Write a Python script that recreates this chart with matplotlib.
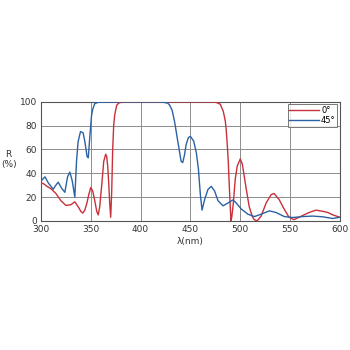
import matplotlib
matplotlib.use("Agg")
import matplotlib.pyplot as plt

# 0 deg curve
wl_0 = [300, 303, 306, 310, 315, 320, 325, 330, 334, 338, 340, 342, 344, 346, 348, 350, 352, 354,
        356, 357.5, 359, 361, 363, 365, 366, 367, 368, 369, 370, 371, 372, 373, 374, 376, 378,
        380, 390, 420, 450, 470, 476, 480, 483, 485, 486, 487, 488, 489, 490, 490.7, 491.5, 493,
        495, 497, 500, 502, 503, 506, 509, 512, 514, 517, 521, 526, 531, 534, 539, 544, 549, 554,
        559, 564, 569, 576, 583, 588, 593, 600]
r_0 = [32, 31, 29, 27, 23, 17, 13, 13.5, 16, 11, 8, 6.5, 9, 14.5, 22, 28, 25, 17,
       8, 5, 12, 30, 50, 56, 54, 46, 32, 15, 3, 24, 60, 80, 89, 97, 99,
       99.5, 100, 100, 100, 100, 99.5, 98, 92, 84, 76, 64, 50, 30, 12, 0, 3, 14,
       35, 46, 52, 48, 43, 27, 12, 4, 1, 0, 4, 15, 22, 23, 18, 10, 3, 1,
       3, 5, 7, 9, 8, 7, 5, 3]

# 45 deg curve
wl_45 = [300, 304, 307.3, 310, 312.3, 315, 317.3, 320.7, 324, 326.7, 329, 331.3, 334, 335.7,
         337.3, 339.7, 342.3, 344, 346.3, 347.5, 349, 350.7, 352, 354, 357, 360, 380, 420, 427,
         429, 431.6, 434, 437.3, 440.7, 442.3, 444, 445.7, 448, 450, 453.3, 456, 458, 460, 461.7,
         464.3, 467.7, 471, 474.3, 477.7, 482.7, 487.7, 492.7, 496, 501, 507.7, 514.3, 521, 529.3,
         536, 544.3, 552.7, 562.7, 572.7, 582.7, 592.7, 600]
r_45 = [33.5, 37, 32, 29, 26.6, 30, 32.5, 27.5, 24, 37, 41, 34, 20, 50,
        66.6, 75, 74, 67, 54, 53, 70, 88, 94, 98.5, 99.5, 99.8, 100, 100, 99,
        97.5, 93, 84, 67, 50, 49, 55, 64, 70, 71, 67, 57, 44, 22, 9,
        18, 26.5, 29, 25, 17, 12.6, 15, 17.6, 15, 10, 5.6, 3.6, 5.6, 8.4,
        7, 3.6, 2.8, 3.6, 4, 3.4, 2, 3]

x_ticks = [300, 350, 400, 450, 500, 550, 600]
y_ticks = [0, 20, 40, 60, 80, 100]

fig = plt.figure(figsize=(3.5, 3.5), dpi=100)
ax = fig.add_axes([0.117, 0.369, 0.854, 0.340])

ax.plot(wl_0, r_0, color="#c8303a", lw=1.0, label="0\u00b0", zorder=3)
ax.plot(wl_45, r_45, color="#2b62a3", lw=1.0, label="45\u00b0", zorder=3)

ax.set_xlim(300, 600)
ax.set_ylim(0, 100)
ax.set_xticks(x_ticks)
ax.set_yticks(y_ticks)
ax.grid(True, color="#8c8c8c", lw=0.7)
for s in ax.spines.values():
    s.set_color("#555555")
    s.set_linewidth(0.8)
ax.tick_params(length=0, labelsize=6.5, pad=3, colors="#333333")

ax.set_xlabel("\u03bb(nm)", fontsize=6.5, labelpad=2, color="#333333")
fig.text(0.025, 0.545, "R\n(%)", fontsize=6.5, ha="center", va="center", color="#333333")

leg = ax.legend(loc="upper right", fontsize=6, frameon=True, fancybox=False,
                handlelength=3.5, handletextpad=0.3, borderpad=0.2, labelspacing=0.1,
                borderaxespad=0.3)
leg.get_frame().set_edgecolor("#555555")
leg.get_frame().set_linewidth(0.7)

fig.savefig("out.png", dpi=100)
